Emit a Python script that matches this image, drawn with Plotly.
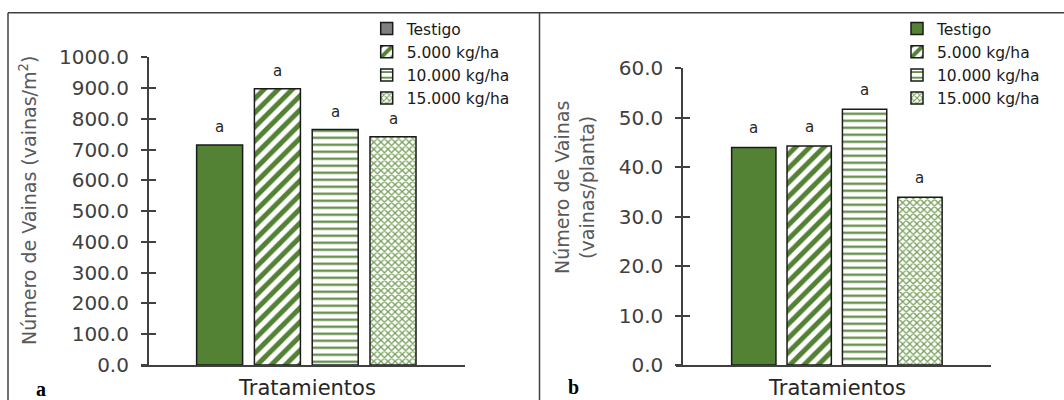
import plotly.graph_objects as go

# ---- data ----
treatments = ["Testigo", "5.000 kg/ha", "10.000 kg/ha", "15.000 kg/ha"]
vainas_m2 = [715, 898, 765, 742]
vainas_planta = [44.0, 44.3, 51.7, 33.9]
letters_a = ["a", "a", "a", "a"]
letters_b = ["a", "a", "a", "a"]
x_title = "Tratamientos"
y_title_a = "Número de Vainas (vainas/m<sup>2</sup>)"
y_title_b = "Número de Vainas<br>(vainas/planta)"

GREEN = "#548235"
DARK = "#404040"
FONT = "DejaVu Sans"
W, H = 1064, 400

patterns = [
    dict(shape=""),
    dict(shape="/", fgcolor=GREEN, bgcolor="white", size=10, solidity=0.5, fgopacity=1, fillmode="overlay"),
    dict(shape="-", fgcolor=GREEN, bgcolor="white", size=7, solidity=0.3, fgopacity=1, fillmode="overlay"),
    dict(shape="x", fgcolor="#76a058", bgcolor="white", size=5, solidity=0.45, fgopacity=1, fillmode="overlay"),
]

def px(v):
    return v / W

def py(v):
    return 1 - v / H

fig = go.Figure()

def add_panel(values, xa, ya, legend, gray_first, width):
    for i, (name, v) in enumerate(zip(treatments, values)):
        col = GREEN if i == 0 else "white"
        show = not (i == 0 and gray_first)
        fig.add_trace(go.Bar(
            x=[i + 1], y=[v], name=name, width=width,
            marker=dict(color=col, line=dict(color="#1a1a1a", width=1.5),
                        pattern=patterns[i]),
            xaxis=xa, yaxis=ya, legend=legend, showlegend=show,
        ))
        if i == 0 and gray_first:
            fig.add_trace(go.Bar(
                x=[None], y=[None], name=name,
                marker=dict(color="#7f7f7f", line=dict(color="#1a1a1a", width=1.5)),
                xaxis=xa, yaxis=ya, legend=legend, showlegend=True,
            ))

add_panel(vainas_m2, "x", "y", "legend", True, 0.796)
add_panel(vainas_planta, "x2", "y2", "legend2", False, 0.8)

# letter annotations
for i, (v, t) in enumerate(zip(vainas_m2, letters_a)):
    fig.add_annotation(x=i + 1, y=v, xref="x", yref="y", text=t, showarrow=False,
                       yshift=18, xanchor="center",
                       font=dict(family=FONT, size=15, color="#262626"))
for i, (v, t) in enumerate(zip(vainas_planta, letters_b)):
    fig.add_annotation(x=i + 1, y=v, xref="x2", yref="y2", text=t, showarrow=False,
                       yshift=19, xanchor="center",
                       font=dict(family=FONT, size=15, color="#262626"))

tickfont = dict(family=FONT, size=20, color=DARK)
titlefont = dict(family=FONT, size=19, color="#595959")

ydom_a = [py(365), py(57.3)]
ydom_b = [py(365), py(68.3)]
xdom_a = [px(140.5), px(464.9)]
xdom_b = [px(676.4), px(990.5)]
ypos_a = px(147.7)
ypos_b = px(682)

common_x = dict(showgrid=False, zeroline=False, showline=True, linecolor=DARK, linewidth=1.5,
                showticklabels=False, ticks="", automargin=False)
common_y = dict(showgrid=False, zeroline=False, showline=True, linecolor=DARK, linewidth=1.5,
                ticks="outside", ticklen=6, tickwidth=1.5, tickcolor=DARK, tickformat=".1f",
                tickfont=tickfont, ticklabelstandoff=8, automargin=False, anchor="free")
inner_y = dict(ticks="inside", ticklen=7, tickwidth=1.5, tickcolor=DARK, showticklabels=False,
               showgrid=False, zeroline=False, showline=False, automargin=False, anchor="free")

fig.update_layout(
    width=W, height=H,
    margin=dict(l=0, r=0, t=0, b=0, autoexpand=False),
    paper_bgcolor="white", plot_bgcolor="rgba(0,0,0,0)",
    barmode="overlay",
    xaxis=dict(domain=xdom_a, range=[-0.369, 5.244], anchor="y", **common_x),
    yaxis=dict(domain=ydom_a, range=[0, 1000], dtick=100, position=ypos_a, **common_y),
    xaxis2=dict(domain=xdom_b, range=[-0.397, 5.273], anchor="y2", **common_x),
    yaxis2=dict(domain=ydom_b, range=[0, 60], dtick=10, position=ypos_b, **common_y),
    yaxis3=dict(overlaying="y", domain=ydom_a, range=[0, 1000], dtick=100, position=ypos_a, **inner_y),
    yaxis4=dict(overlaying="y2", domain=ydom_b, range=[0, 60], dtick=10, position=ypos_b, **inner_y),
    legend=dict(x=px(366.7), y=py(12), xanchor="left", yanchor="top", bgcolor="rgba(0,0,0,0)",
                font=dict(family=FONT, size=15.5, color="#1a1a1a"), tracegroupgap=0,
                traceorder="normal"),
    legend2=dict(x=px(897), y=py(12), xanchor="left", yanchor="top", bgcolor="rgba(0,0,0,0)",
                 font=dict(family=FONT, size=15.5, color="#1a1a1a"), tracegroupgap=0,
                 traceorder="normal"),
    showlegend=True,
)

# dummy traces to activate inside-tick axes
fig.add_trace(go.Scatter(x=[1], y=[0], xaxis="x", yaxis="y3", mode="markers",
                         marker=dict(opacity=0), showlegend=False, hoverinfo="skip"))
fig.add_trace(go.Scatter(x=[1], y=[0], xaxis="x2", yaxis="y4", mode="markers",
                         marker=dict(opacity=0), showlegend=False, hoverinfo="skip"))

# axis titles
xt_font = dict(family=FONT, size=21, color="#262626")
fig.add_annotation(x=px(306.8), y=py(388), xref="paper", yref="paper", text=x_title,
                   xanchor="center", yanchor="middle", showarrow=False, font=xt_font)
fig.add_annotation(x=px(836.5), y=py(388), xref="paper", yref="paper", text=x_title,
                   xanchor="center", yanchor="middle", showarrow=False, font=xt_font)
fig.add_annotation(x=px(28), y=py(201), xref="paper", yref="paper", text=y_title_a,
                   xanchor="center", yanchor="middle", textangle=-90, showarrow=False, font=titlefont)
fig.add_annotation(x=px(574), y=py(188), xref="paper", yref="paper", text=y_title_b,
                   xanchor="center", yanchor="middle", textangle=-90, showarrow=False, font=titlefont)

# panel frames
frame = dict(type="line", xref="paper", yref="paper", line=dict(color="#404040", width=1.5))
fig.add_shape(x0=px(8), x1=px(8), y0=py(12.7), y1=py(402), **frame)
fig.add_shape(x0=px(8), x1=1, y0=py(12.7), y1=py(12.7), **frame)
fig.add_shape(x0=px(539.5), x1=px(539.5), y0=py(12.7), y1=py(402), **frame)

# panel letters
letter_font = dict(family="Liberation Serif", size=20, color="black")
fig.add_annotation(x=px(41.3), y=py(389), xref="paper", yref="paper", text="<b>a</b>",
                   xanchor="center", yanchor="middle", showarrow=False, font=letter_font)
fig.add_annotation(x=px(573), y=py(387), xref="paper", yref="paper", text="<b>b</b>",
                   xanchor="center", yanchor="middle", showarrow=False, font=letter_font)

fig.write_html("out.html", post_script="document.body.style.margin='0';",
               config={"displayModeBar": False})
